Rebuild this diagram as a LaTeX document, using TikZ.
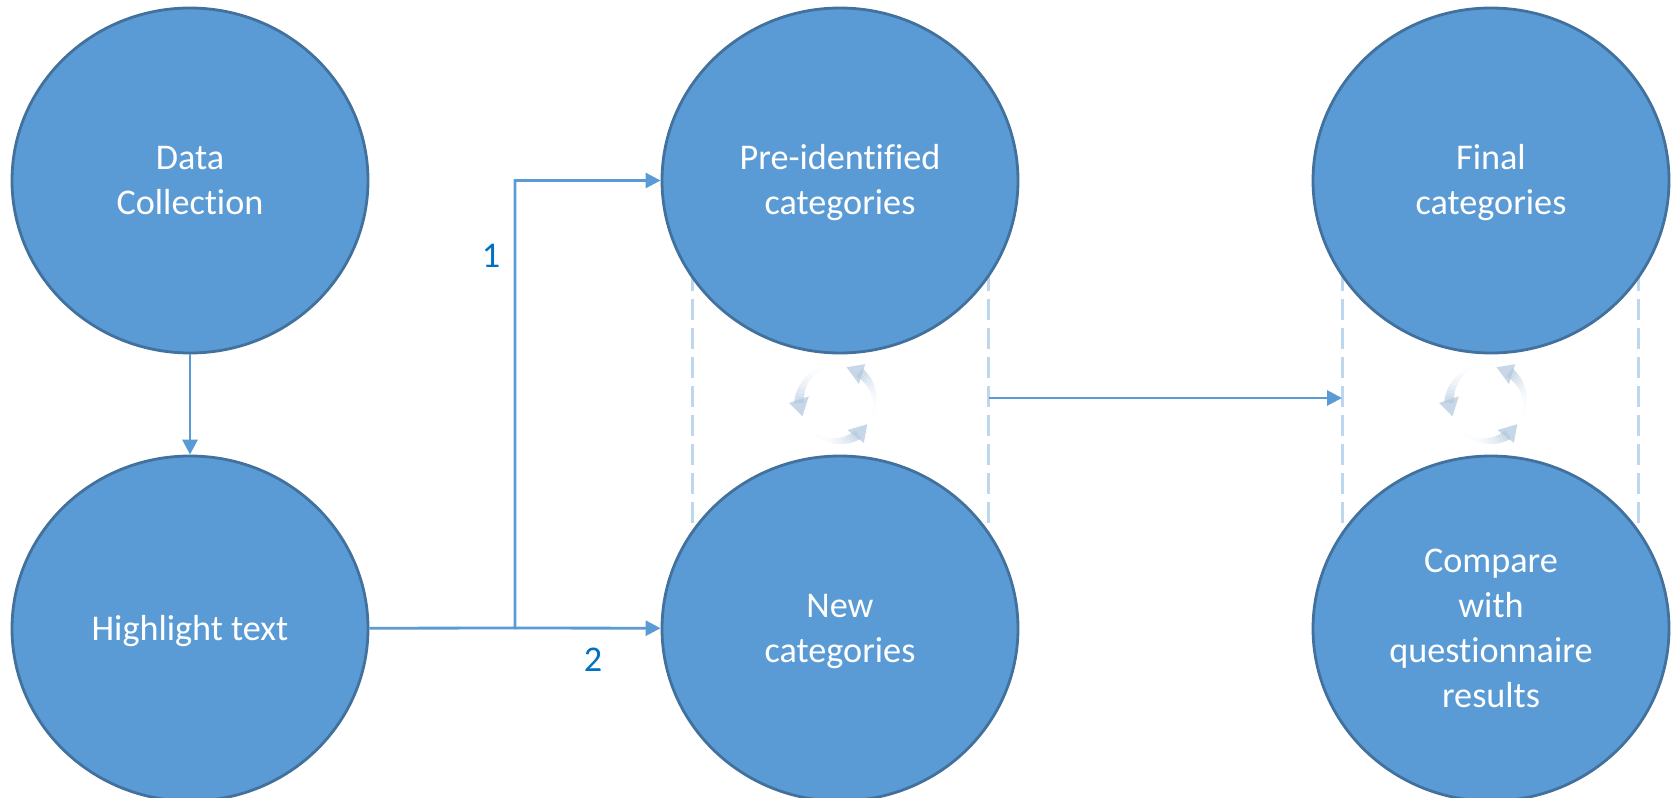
\documentclass[tikz,border=0pt]{standalone}
\usepackage{fontspec}
\setmainfont[Ligatures=NoCommon]{Carlito}
\usepackage{tikz}
\usetikzlibrary{positioning, calc}
\usetikzlibrary{shapes.geometric, arrows.meta}
\definecolor{circfill}{HTML}{5B9BD5}
\definecolor{circline}{HTML}{41719C}
\definecolor{dashblue}{HTML}{BDD7EE}
\definecolor{numblue}{HTML}{0070C0}
\definecolor{cycleblue}{HTML}{B4CADF}
\newcommand{\blobtop}{\rule{0pt}{0.88em}}
\newcommand{\blobbot}{\rule[-0.24em]{0pt}{0.24em}}
\tikzset{
  blob/.style={ellipse, draw=circline, fill=circfill, line width=1.6pt, text=white,
    minimum width=356*0.02cm, minimum height=345*0.02cm, inner sep=0pt, align=center,
    font=\fontsize{20.6}{25.6}\selectfont,
    execute at end node=\blobbot},
  link/.style={draw=circfill, line width=1.6pt, -{Triangle[length=15*0.02cm, width=15*0.02cm]}},
  side/.style={dashblue, line width=1.7pt, dash pattern=on 21*0.02cm off 8*0.02cm},
  num/.style={text=numblue, font=\fontsize{20.6}{25.6}\selectfont}
}
\newcommand{\cyclemark}[2]{
  \foreach \a in {75,201,325} {
    \foreach \s in {0,...,17} {
      \pgfmathsetmacro{\t}{\a-26-4.5*(17-\s)}
      \pgfmathsetmacro{\tt}{\t+5}
      \pgfmathsetmacro{\o}{0.03+0.7*(\s/17)*(\s/17)*(\s/17)}
      \pgfmathsetmacro{\w}{0.5+5*\s/17}
      \draw [cycleblue, opacity=\o, line width=\w pt]
        ({#1+38*cos(\t)}, {#2-38*sin(\t)}) arc [start angle=-\t, end angle=-\tt, radius=38];
    }
    \fill [cycleblue, opacity=0.75]
      ({#1+37*cos(\a)}, {#2-37*sin(\a)})
      -- ({#1+29*cos(\a-34)}, {#2-29*sin(\a-34)})
      -- ({#1+48*cos(\a-21)}, {#2-48*sin(\a-21)}) -- cycle;
  }
}
\begin{document}
\begin{tikzpicture}[x=0.02cm, y=-0.02cm]
  \useasboundingbox (0,0) rectangle (1675,797);

  \coordinate (leftend) at (989,398);
  \coordinate (rightend) at (1342,398);
  \coordinate (branch) at (515,628);

  % sides of the two groups, behind the circles
  \foreach \x in {692,988,1342,1638} {
    \draw [side] (\x,270) -- (\x,540);
  }

  \cyclemark{837}{403}
  \cyclemark{1487}{403}

  \node [blob] (datacoll) at (190,180.5) {\blobtop Data\\Collection};
  \node [blob] (highlight) at (190,628.5) {\blobtop Highlight text};
  \node [blob] (preid) at (840,180.5) {\blobtop Pre-identified\\categories};
  \node [blob] (newcat) at (840,628.5) {\blobtop New\\categories};
  \node [blob] (finalcat) at (1491,180.5) {\blobtop Final\\categories};
  \node [blob] (compare) at (1491,628.5) {\blobtop Compare\\with\\questionnaire\\results};

  \draw [link] (datacoll) -- (highlight);
  \draw [link] (highlight) -- (branch) |- (preid);
  \draw [link] (branch) -- (newcat);
  \draw [link] (leftend) -- (rightend);

  \node [num] (one) at (491,256) {1};
  \node [num] (two) at (593,660) {2};
\end{tikzpicture}
\end{document}
